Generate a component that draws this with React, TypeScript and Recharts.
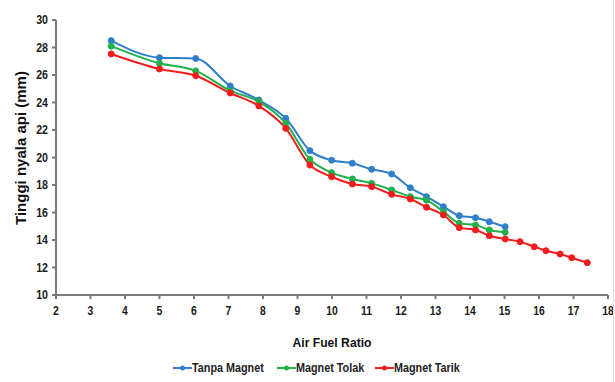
import { LineChart, Line, XAxis, YAxis } from "recharts";

const afr = [3.6, 5.0, 6.05, 7.05, 7.88, 8.66, 9.36, 9.99, 10.59, 11.15, 11.73, 12.27, 12.74, 13.23, 13.69, 14.16, 14.56, 15.02, 15.45, 15.86, 16.2, 16.61, 16.95, 17.4];
const tanpaMagnet = [28.5, 27.26, 27.2, 25.2, 24.18, 22.85, 20.5, 19.8, 19.58, 19.14, 18.8, 17.8, 17.15, 16.42, 15.77, 15.62, 15.33, 14.97];
const magnetTolak = [28.1, 26.85, 26.3, 24.86, 24.06, 22.49, 19.87, 18.9, 18.44, 18.12, 17.64, 17.15, 16.9, 16.06, 15.21, 15.09, 14.73, 14.56];
const magnetTarik = [27.53, 26.44, 25.95, 24.69, 23.75, 22.12, 19.45, 18.6, 18.07, 17.88, 17.32, 16.98, 16.38, 15.82, 14.9, 14.73, 14.31, 14.07, 13.88, 13.51, 13.22, 12.98, 12.71, 12.35];
const xTicks = [2, 3, 4, 5, 6, 7, 8, 9, 10, 11, 12, 13, 14, 15, 16, 17, 18];
const yTicks = [10, 12, 14, 16, 18, 20, 22, 24, 26, 28, 30];

const series = [
  { key: "tanpa", name: "Tanpa Magnet", values: tanpaMagnet, color: "#2f7fc8" },
  { key: "tolak", name: "Magnet Tolak", values: magnetTolak, color: "#22b04b" },
  { key: "tarik", name: "Magnet Tarik", values: magnetTarik, color: "#f21c1c" },
];

const data = afr.map((x, i) => {
  const row: Record<string, number> = { x };
  series.forEach((s) => {
    if (i < s.values.length) row[s.key] = s.values[i];
  });
  return row;
});

const FONT = "'Liberation Sans', Arial, sans-serif";
const AXIS = "#7a7a7a";

// reference uses a narrow bold face, so squeeze the regular one
function XTick({ x, y, payload }: any) {
  return (
    <text transform={`translate(${x},${y + 14}) scale(0.8,1)`} textAnchor="middle" fontSize={13} fontWeight="bold" fontFamily={FONT} fill="#1a1a1a">
      {payload.value}
    </text>
  );
}

function YTick({ x, y, payload }: any) {
  return (
    <text transform={`translate(${x - 2},${y + 4}) scale(0.85,1)`} textAnchor="end" fontSize={12.5} fontWeight="bold" fontFamily={FONT} fill="#1a1a1a">
      {payload.value}
    </text>
  );
}

const legendPos = [173, 277, 375];

export default function App() {
  return (
    <div style={{ position: "absolute", left: 0, top: 0, width: 615, height: 382, background: "#fff", fontFamily: FONT }}>
      <LineChart width={615} height={382} data={data} margin={{ top: 20, right: 7, bottom: 62, left: 0 }}>
        <XAxis
          dataKey="x"
          type="number"
          domain={[2, 18]}
          ticks={xTicks}
          interval={0}
          height={25}
          stroke={AXIS}
          strokeWidth={2}
          tickSize={4}
          tick={<XTick />}
        />
        <YAxis
          type="number"
          domain={[10, 30]}
          ticks={yTicks}
          interval={0}
          width={56}
          stroke={AXIS}
          strokeWidth={2}
          tickSize={4}
          tick={<YTick />}
        />
        {series.map((s) => (
          <Line
            key={s.key}
            dataKey={s.key}
            name={s.name}
            type="monotone"
            stroke={s.color}
            strokeWidth={2}
            dot={{ r: 3, fill: s.color, stroke: s.color, strokeWidth: 1 }}
            isAnimationActive={false}
            connectNulls={false}
          />
        ))}
      </LineChart>
      <div
        style={{
          position: "absolute",
          left: 20,
          top: 148,
          transform: "translate(-50%, -50%) rotate(-90deg)",
          fontSize: 15,
          fontWeight: "bold",
          whiteSpace: "nowrap",
          color: "#111",
        }}
      >
        Tinggi nyala api (mm)
      </div>
      <div
        style={{
          position: "absolute",
          left: 332,
          top: 342,
          transform: "translate(-50%, -50%) scaleX(0.9)",
          fontSize: 13.5,
          fontWeight: "bold",
          whiteSpace: "nowrap",
          color: "#111",
        }}
      >
        Air Fuel Ratio
      </div>
      {series.map((s, i) => (
        <div key={s.key} style={{ position: "absolute", left: legendPos[i], top: 360, display: "flex", alignItems: "center", fontSize: 13.5, fontWeight: "bold", color: "#222", whiteSpace: "nowrap" }}>
          <svg width={19} height={10}>
            <line x1={0} y1={5} x2={19} y2={5} stroke={s.color} strokeWidth={2} />
            <circle cx={9.5} cy={5} r={2.5} fill={s.color} />
          </svg>
          <span style={{ display: "inline-block", transform: "scaleX(0.8)", transformOrigin: "left center", lineHeight: "15px" }}>{s.name}</span>
        </div>
      ))}
      <div style={{ position: "absolute", right: 1, top: 0, width: 1, height: 382, background: "#ddd" }} />
    </div>
  );
}
